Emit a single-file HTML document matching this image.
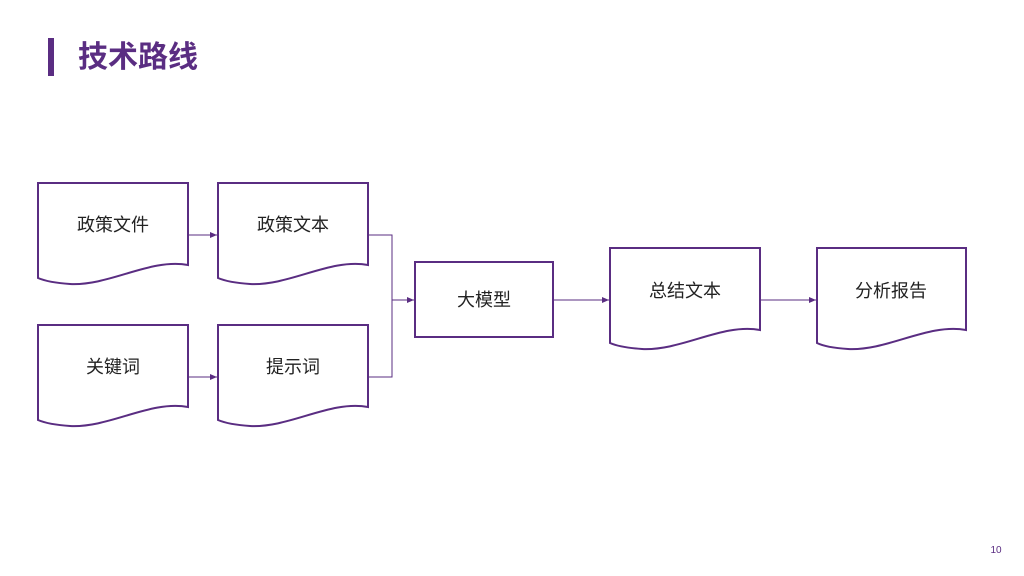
<!DOCTYPE html>
<html><head><meta charset="utf-8"><style>
body{margin:0;width:1024px;height:576px;background:#fff;overflow:hidden;font-family:"Liberation Sans","Noto Sans CJK SC",sans-serif;}
</style></head><body>
<svg width="1024" height="576" xmlns="http://www.w3.org/2000/svg" style="position:absolute;left:0;top:0">
<defs><marker id="a" markerWidth="8" markerHeight="8" refX="7" refY="4" orient="auto" markerUnits="userSpaceOnUse"><path d="M0,1 L7,4 L0,7 z" fill="#5a2d82"/></marker></defs>
<rect x="48" y="38" width="6" height="38" fill="#5a2d82"/>
<text x="78" y="67" font-size="30" font-weight="bold" fill="#5a2d82" font-family="Noto Sans CJK SC,sans-serif">技术路线</text>
<g fill="none" stroke="#5a2d82" stroke-width="2">
<path d="M38,183 H188 V265 C150,258 110,286 70,284 C55,283 45,281 38,278 Z"/>
<path d="M218,183 H368 V265 C330,258 290,286 250,284 C235,283 225,281 218,278 Z"/>
<path d="M38,325 H188 V407 C150,400 110,428 70,426 C55,425 45,423 38,420 Z"/>
<path d="M218,325 H368 V407 C330,400 290,428 250,426 C235,425 225,423 218,420 Z"/>
<rect x="415" y="262" width="138" height="75"/>
<path d="M610,248 H760 V330 C722,323 682,351 642,349 C627,348 617,346 610,343 Z"/>
<path d="M817,248 H966 V330 C928,323 888,351 848,349 C833,348 823,346 817,343 Z"/>
</g>
<g fill="none" stroke="#5a2d82" stroke-width="1">
<line x1="188" y1="235" x2="217" y2="235" marker-end="url(#a)"/>
<line x1="188" y1="377" x2="217" y2="377" marker-end="url(#a)"/>
<path d="M368,235 H392 V377 H368"/>
<line x1="392" y1="300" x2="414" y2="300" marker-end="url(#a)"/>
<line x1="553" y1="300" x2="609" y2="300" marker-end="url(#a)"/>
<line x1="760" y1="300" x2="816" y2="300" marker-end="url(#a)"/>
</g>
<g font-size="18" fill="#222" text-anchor="middle" font-family="Noto Sans CJK SC,sans-serif">
<text x="113" y="231">政策文件</text>
<text x="293" y="231">政策文本</text>
<text x="113" y="373">关键词</text>
<text x="293" y="373">提示词</text>
<text x="484" y="306">大模型</text>
<text x="685" y="297">总结文本</text>
<text x="891" y="297">分析报告</text>
</g>
<text x="996" y="553" font-size="10" fill="#5a2d82" text-anchor="middle">10</text>
</svg>
</body></html>
